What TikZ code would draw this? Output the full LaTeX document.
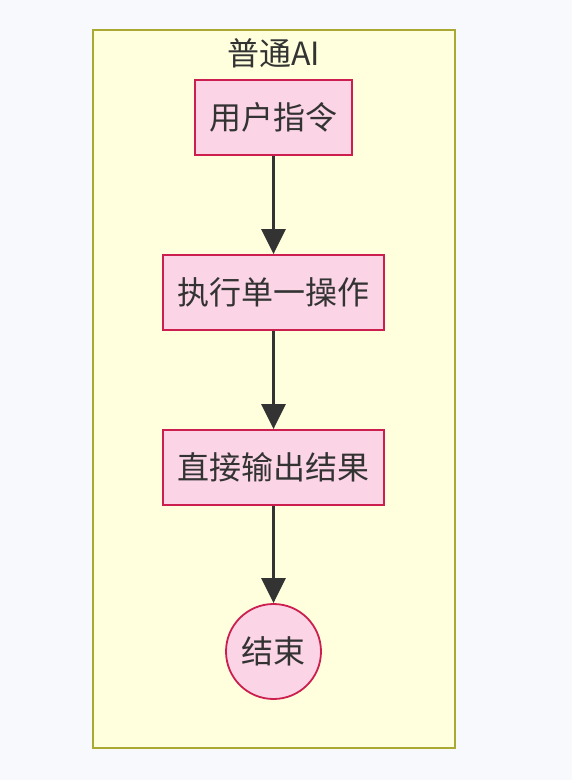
\documentclass[tikz,border=0pt]{standalone}
\usepackage{fontspec}
\setmainfont{Noto Sans CJK SC}
\usetikzlibrary{arrows.meta}
\definecolor{pagebg}{HTML}{F8F9FC}
\definecolor{groupfill}{HTML}{FFFFDE}
\definecolor{groupline}{HTML}{AAAA33}
\definecolor{stepfill}{HTML}{FBD5E6}
\definecolor{stepline}{HTML}{CC1F4F}
\definecolor{textgray}{HTML}{333333}
\begin{document}
\begin{tikzpicture}[x=1pt,y=1pt]
			\tikzstyle{every node}+=[inner sep=0pt,text=textgray,font=\fontsize{32}{35}\selectfont]
			\tikzstyle{stepbox}=[draw=stepline,fill=stepfill,line width=1.8pt,minimum height=75pt]
			\tikzstyle{flow}=[draw=textgray,line width=3pt,-{Triangle[width=24pt,length=25pt]}]
			\useasboundingbox (0,0) rectangle (572,-780);
			\fill [pagebg] (0,0) rectangle (572,-780);
			\draw [groupline,fill=groupfill,line width=1.8pt] (93,-30) rectangle (455,-748);
			\node (title) at (273.5,-53) {普通AI};
			\node [stepbox,minimum width=157pt] (cmd) at (273.5,-117.5) {用户指令};
			\node [stepbox,minimum width=221pt] (exec) at (273.5,-292.5) {执行单一操作};
			\node [stepbox,minimum width=221pt] (out) at (273.5,-467.5) {直接输出结果};
			\node [stepbox,circle,minimum size=95pt] (done) at (273.5,-651.5) {结束};
			\draw [flow] (cmd) -- (exec);
			\draw [flow] (exec) -- (out);
			\draw [flow] (out) -- (done);
\end{tikzpicture}
\end{document}
